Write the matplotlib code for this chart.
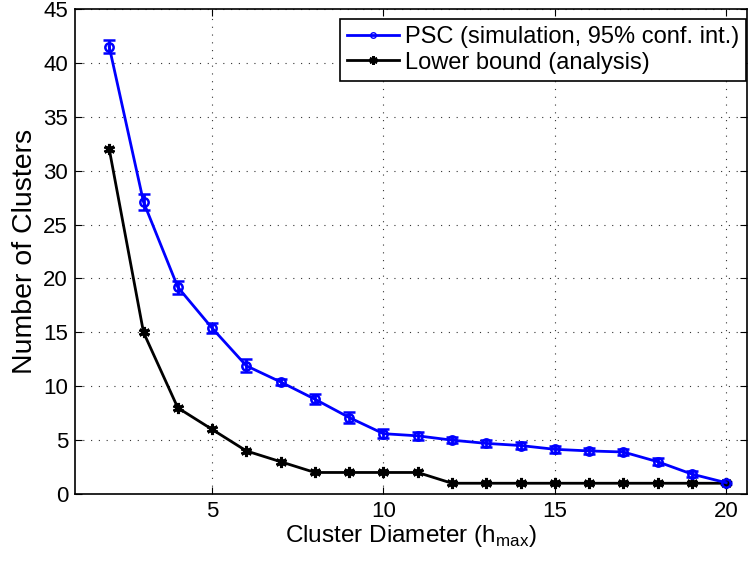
import numpy as np
import matplotlib
matplotlib.use("Agg")
import matplotlib.pyplot as plt
from matplotlib.lines import Line2D

plt.rcParams['font.family'] = ['Liberation Sans', 'DejaVu Sans']

# cluster diameter h_max
diam = [2, 3, 4, 5, 6, 7, 8, 9, 10, 11, 12, 13, 14, 15, 16, 17, 18, 19, 20]
# PSC simulation mean and 95% conf half-width
psc_mean = [41.5, 27.1, 19.2, 15.4, 11.9, 10.4, 8.8, 7.1, 5.6, 5.4, 5.0, 4.7, 4.5, 4.15, 4.0, 3.9, 3.0, 1.85, 1.05]
psc_err = [0.6, 0.75, 0.6, 0.5, 0.6, 0.3, 0.45, 0.5, 0.4, 0.4, 0.3, 0.35, 0.3, 0.35, 0.3, 0.3, 0.3, 0.25, 0.1]
# analytic lower bound
lower = [32, 15, 8, 6, 4, 3, 2, 2, 2, 2, 1, 1, 1, 1, 1, 1, 1, 1, 1]

fig = plt.figure(figsize=(7.52, 5.67), dpi=100)
ax = fig.add_axes([0.0997, 0.1287, 0.8933, 0.8553])

ax.errorbar(diam, psc_mean, yerr=psc_err, color='blue', lw=2, marker='o',
            ms=6, mfc='none', mew=1.8, capsize=4.5, capthick=2, elinewidth=2,
            zorder=3)
ax.plot(diam, lower, color='black', lw=2, marker=(6, 2, 0), ms=8, mew=2.2,
        zorder=3)

ax.set_xlim(1, 20.6)
ax.set_ylim(0, 45)
ax.set_xticks([5, 10, 15, 20])
ax.set_yticks(np.arange(0, 46, 5))
ax.tick_params(direction='in', top=True, right=True, labelsize=16, length=5, pad=5)
ax.grid(True, color='#333333', linestyle=(0, (1, 6)), linewidth=0.8)
for s in ax.spines.values():
    s.set_linewidth(1.2)

ax.set_xlabel('Cluster Diameter (h$_\\mathregular{max}$)', fontsize=17.5, labelpad=1)
ax.set_ylabel('Number of Clusters', fontsize=20.5, labelpad=4)

handles = [
    Line2D([], [], color='blue', lw=2, marker='o', ms=4, mfc='none', mew=1),
    Line2D([], [], color='black', lw=2, marker=(6, 2, 0), ms=6, mew=2),
]
labels = ['PSC (simulation, 95% conf. int.)', 'Lower bound (analysis)']
leg = ax.legend(handles, labels, loc='upper right',
                bbox_to_anchor=(746 / 752, 1 - 19 / 567), bbox_transform=fig.transFigure,
                fontsize=17, frameon=True, fancybox=False, borderpad=0.3,
                handlelength=2.2, handletextpad=0.25, labelspacing=0.15,
                borderaxespad=0)
leg.get_frame().set_edgecolor('black')
leg.get_frame().set_linewidth(1.2)
leg.get_frame().set_alpha(1)

fig.savefig('out.png', dpi=100)
